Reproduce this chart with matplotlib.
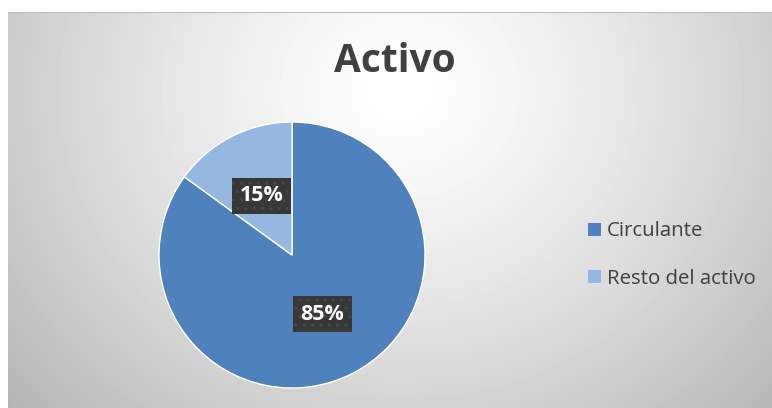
import numpy as np
import matplotlib.pyplot as plt
from matplotlib.patches import Patch

labels = ["Circulante", "Resto del activo"]
values = [85, 15]
colors = ["#4F81BD", "#95B7E0"]
title = "Activo"

W, H = 772, 408
fig = plt.figure(figsize=(W / 100, H / 100), dpi=100)
fig.patch.set_facecolor("white")

# chart area with radial gradient background
x0, ytop = 8, 12
bg = fig.add_axes([x0 / W, 0, 1 - x0 / W, (H - ytop) / H])
bg.set_axis_off()
gx, gy = np.meshgrid(np.arange(x0, W), np.arange(ytop, H))
d = np.sqrt(((gx - 400) / 420) ** 2 + ((gy - 90) / 380) ** 2)
grad = 1.0 - 0.22 * np.clip(d, 0, 1.3) ** 1.3
bg.imshow(grad, cmap="gray", vmin=0, vmax=1, aspect="auto",
          extent=[0, 1, 0, 1], interpolation="bilinear")
bg.plot([0, 1], [1, 1], color="#bdbdbd", lw=1.5, transform=bg.transAxes)
bg.set_xlim(0, 1)
bg.set_ylim(0, 1)

# pie
cx, cy, r = 292, 255, 133
ax = fig.add_axes([(cx - r) / W, (H - cy - r) / H, 2 * r / W, 2 * r / H])
ax.set_axis_off()
wedges, texts, autotexts = ax.pie(
    values, colors=colors, startangle=90, counterclock=False,
    autopct="%1.0f%%", pctdistance=0.5, radius=1,
    wedgeprops=dict(edgecolor="white", linewidth=1))
ax.set_xlim(-1, 1)
ax.set_ylim(-1, 1)
plt.rcParams["hatch.color"] = "#4a4a4a"
plt.rcParams["hatch.linewidth"] = 1.0
for t in autotexts:
    t.set_color("white")
    t.set_fontsize(15.5)
    t.set_fontweight("bold")
    t.set_family("Open Sans")
    t.set_bbox(dict(boxstyle="square,pad=0.35", fc="#383838", ec="#474747",
                    hatch="..", lw=0))

fig.text(395 / W, 1 - 62 / H, title, ha="center", va="center",
         fontsize=28, fontweight="bold", color="#404040", family="Open Sans")

handles = [Patch(facecolor=c, edgecolor="none") for c in colors]
fig.legend(handles, labels, loc="center left",
           bbox_to_anchor=(574 / W, 1 - 255 / H), frameon=False,
           labelcolor="#404040", handlelength=0.6,
           handleheight=0.6, handletextpad=0.3, labelspacing=1.35,
           borderpad=0.2, prop=dict(family="Open Sans", size=14.7))

fig.savefig("out.png", dpi=100)
